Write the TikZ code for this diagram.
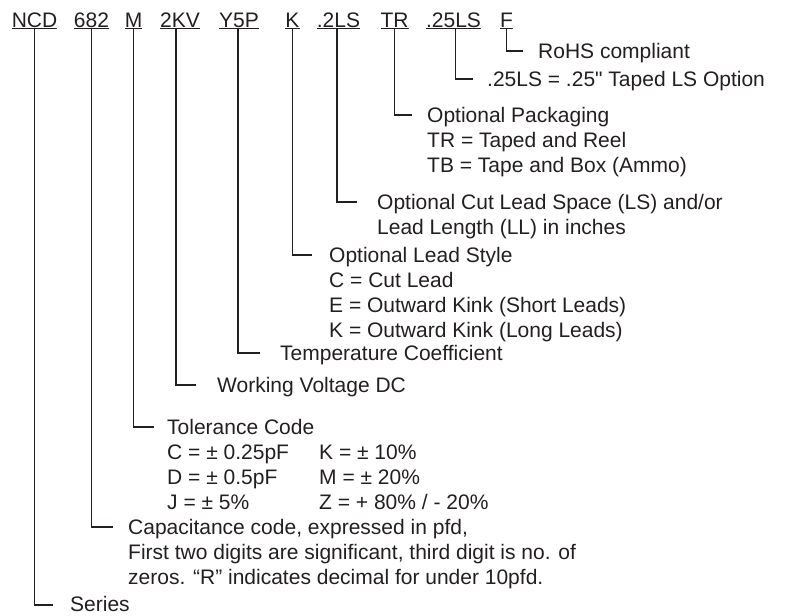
\documentclass[tikz,border=0pt]{standalone}
\usepackage{fontspec}
\setmainfont{Liberation Sans}[Ligatures=TeXOff]
\definecolor{ink}{RGB}{35,31,32}
\begin{document}
\begin{tikzpicture}[x=1pt,y=-1pt,font=\fontsize{21pt}{25pt}\selectfont,
		code/.style={anchor=base,inner sep=0pt,text=ink},
		lbl/.style={anchor=north west,inner sep=0pt,align=left,text=ink},
		lead/.style={draw=ink,line width=1.1pt}]
			\useasboundingbox (0,0) rectangle (785,616);

			\node[code] at (34.5,27) (ncd) {\underline{NCD}};
			\node[code] at (91.5,27) (c682) {\underline{682}};
			\node[code] at (133.5,27) (m) {\underline{M}};
			\node[code] at (180,27) (kv) {\underline{2KV}};
			\node[code] at (239,27) (y5p) {\underline{Y5P}};
			\node[code] at (292.5,27) (k) {\underline{K}};
			\node[code] at (338.5,27) (ls2) {\underline{.2LS}};
			\node[code] at (394.5,27) (tr) {\underline{TR}};
			\node[code] at (453.5,27) (ls25) {\underline{.25LS}};
			\node[code] at (506.5,27) (f) {\underline{F}};

			\coordinate (rohs-e) at (523,51);
			\coordinate (opt-e) at (473,79);
			\coordinate (pkg-e) at (412,115);
			\coordinate (cut-e) at (357,202);
			\coordinate (sty-e) at (312,255);
			\coordinate (tc-e) at (260,353);
			\coordinate (wv-e) at (196,385);
			\coordinate (tol-e) at (154,427);
			\coordinate (cap-e) at (113,527);
			\coordinate (ser-e) at (53,605);

			\node[lbl] at (538,43) (rohs) {RoHS compliant};
			\node[lbl] at (487,71) (opt) {.25LS = .25" Taped LS Option};
			\node[lbl] at (427,107) (pkg) {Optional Packaging\\TR = Taped and Reel\\TB = Tape and Box (Ammo)};
			\node[lbl] at (377,194) (cut) {Optional Cut Lead Space (LS) and/or\\Lead Length (LL) in inches};
			\node[lbl] at (329,247) (sty) {Optional Lead Style\\C = Cut Lead\\E = Outward Kink (Short Leads)\\K = Outward Kink (Long Leads)};
			\node[lbl] at (280,345) (tc) {Temperature Coefficient};
			\node[lbl] at (217,377) (wv) {Working Voltage DC};
			\node[lbl] at (167,419) (tol) {Tolerance Code\\
				\makebox[152pt][l]{C = ± 0.25pF}K = ± 10\%\\
				\makebox[152pt][l]{D = ± 0.5pF}M = ± 20\%\\
				\makebox[152pt][l]{J = ± 5\%}Z = + 80\% / - 20\%};
			\node[lbl] at (128,519) (cap) {Capacitance code, expressed in pfd,\\First two digits are significant, third digit is no. of\\zeros. “R” indicates decimal for under 10pfd.};
			\node[lbl] at (70,596) (ser) {Series};

			\draw[lead] (f.south) |- (rohs-e);
			\draw[lead] ([xshift=2]ls25.south) |- (opt-e);
			\draw[lead] (tr.south) |- (pkg-e);
			\draw[lead] ([xshift=-1.5]ls2.south) |- (cut-e);
			\draw[lead] (k.south) |- (sty-e);
			\draw[lead] ([xshift=-1]y5p.south) |- (tc-e);
			\draw[lead] ([xshift=-4]kv.south) |- (wv-e);
			\draw[lead] (m.south) |- (tol-e);
			\draw[lead] (c682.south) |- (cap-e);
			\draw[lead] (ncd.south) |- (ser-e);
		\end{tikzpicture}
\end{document}
